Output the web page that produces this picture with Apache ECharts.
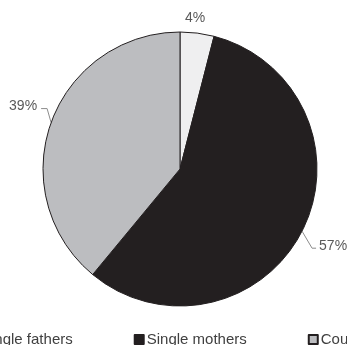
<!DOCTYPE html>
<html>
<head>
<meta charset="utf-8">
<script src="https://cdn.jsdelivr.net/npm/echarts@6/dist/echarts.min.js"></script>
<style>
html,body{margin:0;padding:0;background:#fff;}
#chart{width:347px;height:345px;}
</style>
</head>
<body>
<div id="chart"></div>
<script>
var categories = ["Single fathers", "Single mothers", "Couples"];
var values = [4, 57, 39];
var colors = ["#efeff0", "#231f20", "#bcbdc0"];

var chart = echarts.init(document.getElementById('chart'), null, {renderer: 'canvas'});
var data = categories.map(function (c, i) {
  var d = {name: c, value: values[i], itemStyle: {color: colors[i]}};
  if (i === 0) d.labelLine = {show: false};
  return d;
});

// Excel-style leader lines, built relative to the library's own anchor point on the slice edge
function layoutLabel(p) {
  var pts = p.labelLinePoints;
  var a = pts[0];
  var r = p.labelRect;
  var cy = r.y + r.height / 2;
  if (p.dataIndex === 0) {
    return {dx: (a[0] - 2) - (r.x + r.width / 2), dy: (a[1] - 15) - cy};
  }
  if (p.dataIndex === 1) {
    return {
      dx: (a[0] + 17) - r.x,
      dy: (a[1] + 15) - cy,
      labelLinePoints: [a, [a[0] + 10, a[1] + 17], [a[0] + 14, a[1] + 17]]
    };
  }
  return {
    dx: (a[0] - 14) - (r.x + r.width),
    dy: (a[1] - 16) - cy,
    labelLinePoints: [a, [a[0] - 4, a[1] - 14], [a[0] - 10, a[1] - 14]]
  };
}

chart.setOption({
  animation: false,
  legend: {
    left: -37,
    width: 460,
    top: 327,
    itemWidth: 9,
    itemHeight: 9,
    itemGap: 61,
    icon: 'rect',
    textStyle: {fontFamily: 'Liberation Sans, Arial, sans-serif', fontSize: 15, color: '#404040', padding: [0, 0, 0, -2]},
    data: categories
  },
  series: [{
    type: 'pie',
    center: [180, 169],
    radius: 137,
    startAngle: 90,
    clockwise: true,
    data: data,
    itemStyle: {borderColor: '#231f20', borderWidth: 1},
    label: {
      formatter: '{d}%',
      fontFamily: 'Liberation Sans, Arial, sans-serif',
      fontSize: 14,
      color: '#595959',
      overflow: 'none',
      width: 60
    },
    labelLine: {length: 10, length2: 5, lineStyle: {color: '#8c8c8c', width: 1}},
    labelLayout: layoutLabel
  }]
});
</script>
</body>
</html>
